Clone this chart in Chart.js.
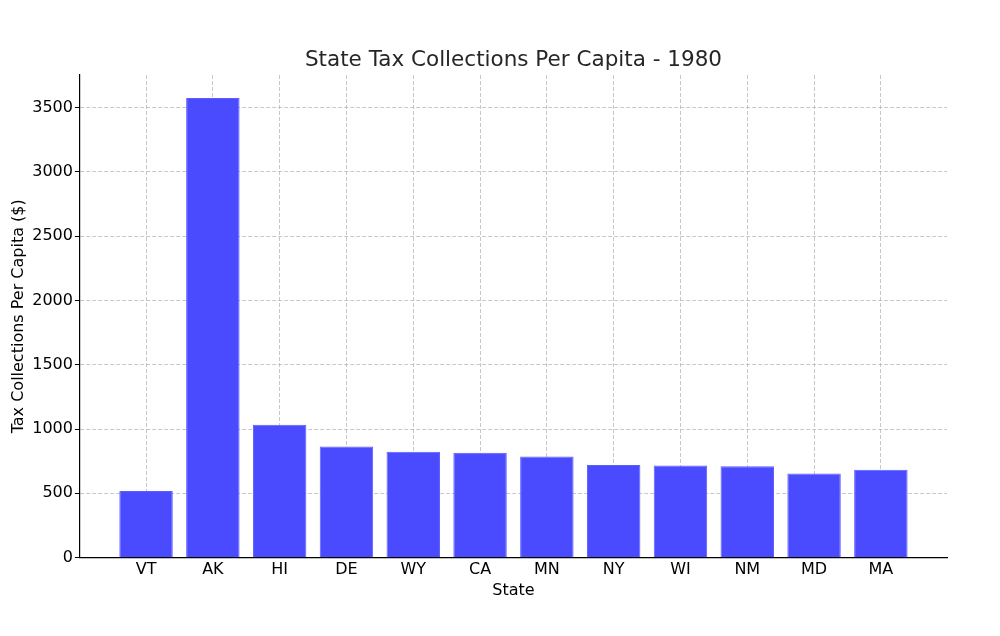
<!DOCTYPE html>
<html>
<head>
<meta charset="utf-8">
<script src="https://cdn.jsdelivr.net/npm/chart.js@4.4.1/dist/chart.umd.min.js"></script>
<style>
    html, body { margin: 0; padding: 0; background: #fff; }
    #wrap { width: 1000px; height: 636px; }
</style>
</head>
<body>
<div id="wrap"><canvas id="taxChart"></canvas></div>
<script>
const states = ['VT', 'AK', 'HI', 'DE', 'WY', 'CA', 'MN', 'NY', 'WI', 'NM', 'MD', 'MA'];
const taxPerCapita = [519, 3575, 1033, 864, 823, 815, 786, 721, 716, 710, 654, 683];
const yTicks = [0, 500, 1000, 1500, 2000, 2500, 3000, 3500];
const chartTitle = 'State Tax Collections Per Capita - 1980';

const font = 'DejaVu Sans';

// title centred over the plot area, like matplotlib does
const plotTitle = {
    id: 'plotTitle',
    afterDraw(chart) {
        const { ctx, chartArea } = chart;
        ctx.save();
        ctx.font = `21.5px "${font}"`;
        ctx.fillStyle = '#262626';
        ctx.textAlign = 'center';
        ctx.textBaseline = 'middle';
        ctx.fillText(chartTitle, (chartArea.left + chartArea.right) / 2, chartArea.top - 15);
        ctx.restore();
    }
};

const renderChart = () => {
    const ctx = document.getElementById('taxChart').getContext('2d');

    new Chart(ctx, {
        type: 'bar',
        data: {
            datasets: [
                {
                    label: 'Tax Collections Per Capita',
                    data: taxPerCapita.map((v, i) => ({ x: i, y: v })),
                    backgroundColor: '#4a4aff',
                    borderColor: '#5c5cff',
                    borderWidth: 1,
                    barPercentage: 0.8,
                    categoryPercentage: 1
                }
            ]
        },
        options: {
            responsive: true,
            maintainAspectRatio: false,
            animation: false,
            layout: {
                padding: { top: 75, right: 53, bottom: 36, left: 9 }
            },
            plugins: {
                legend: { display: false },
                tooltip: { enabled: false },
                title: { display: false }
            },
            scales: {
                x: {
                    type: 'linear',
                    offset: false,
                    min: -0.99,
                    max: 11.99,
                    afterBuildTicks: scale => {
                        scale.ticks = states.map((s, i) => ({ value: i }));
                    },
                    ticks: {
                        color: '#000',
                        font: { family: font, size: 16 },
                        padding: 0,
                        maxRotation: 0,
                        autoSkip: false,
                        callback: value => states[value] ?? ''
                    },
                    grid: {
                        offset: false,
                        color: 'rgba(176,176,176,0.7)',
                        lineWidth: 1,
                        tickLength: 3,
                        tickColor: 'rgba(0,0,0,0)'
                    },
                    border: {
                        display: true,
                        color: '#000',
                        width: 1.2,
                        dash: [4, 2]
                    },
                    title: {
                        display: true,
                        text: 'State',
                        color: '#000',
                        font: { family: font, size: 16 },
                        padding: { top: 1, bottom: 0 }
                    }
                },
                y: {
                    min: 0,
                    max: 3754,
                    afterBuildTicks: scale => {
                        scale.ticks = yTicks.map(v => ({ value: v }));
                    },
                    ticks: {
                        color: '#000',
                        font: { family: font, size: 16 },
                        padding: 2,
                        callback: value => String(value)
                    },
                    grid: {
                        color: 'rgba(176,176,176,0.7)',
                        lineWidth: 1,
                        tickLength: 5,
                        tickColor: '#000',
                        tickBorderDash: []
                    },
                    border: {
                        display: true,
                        color: '#000',
                        width: 1.2,
                        dash: [4, 2]
                    },
                    title: {
                        display: true,
                        text: 'Tax Collections Per Capita ($)',
                        color: '#000',
                        font: { family: font, size: 16 },
                        padding: { top: 0, bottom: 2 }
                    }
                }
            }
        },
        plugins: [plotTitle]
    });
}

renderChart();
</script>
</body>
</html>
